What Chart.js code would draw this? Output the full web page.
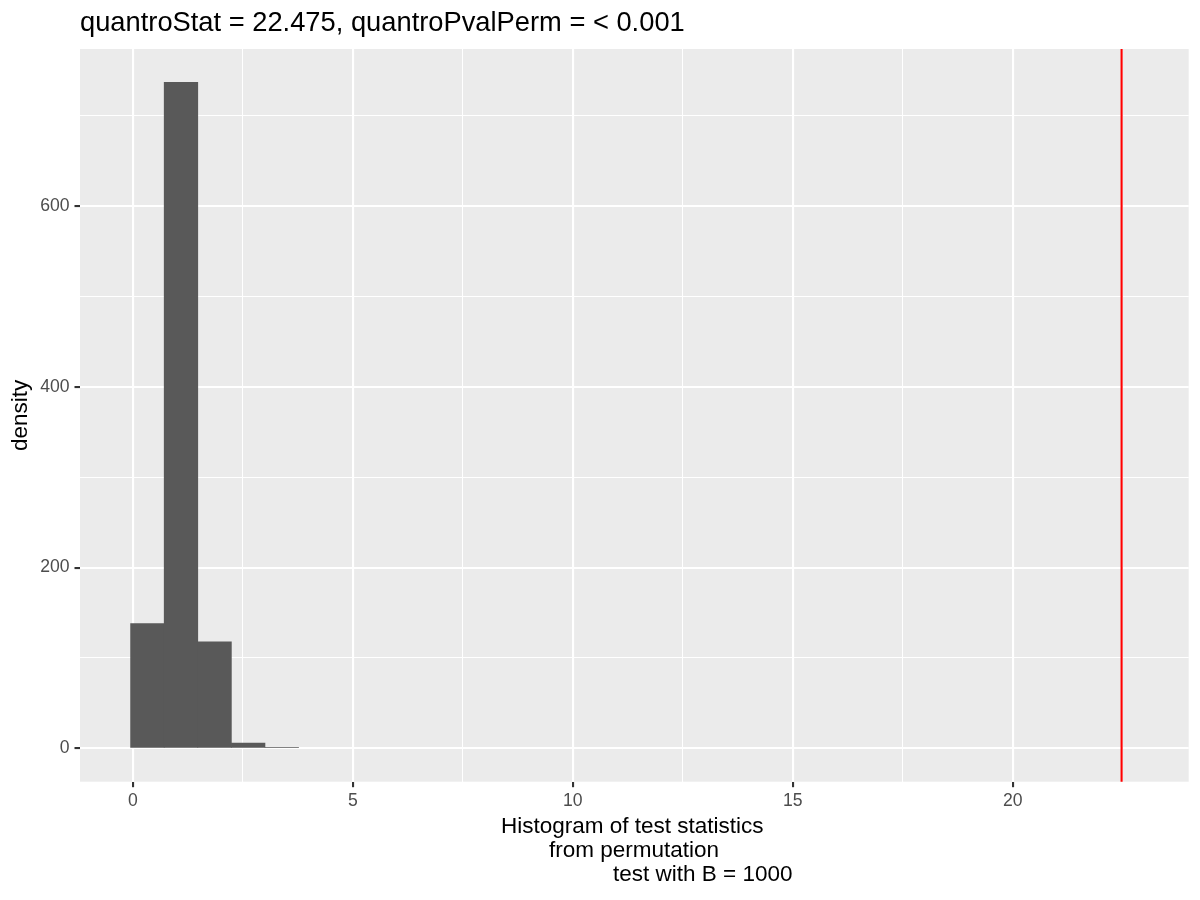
<!DOCTYPE html>
<html><head><meta charset="utf-8">
<script src="https://cdn.jsdelivr.net/npm/chart.js@4/dist/chart.umd.min.js"></script>
<style>html,body{margin:0;padding:0;background:#fff}canvas{display:block}</style>
</head><body>
<canvas id="c" width="1200" height="900"></canvas>
<script>
const binEdges = [-0.05, 0.7136, 1.4772, 2.2408, 3.0044, 3.768];
const binCounts = [138, 737, 118, 6, 1];
const observedStat = 22.475;
const xMajorTicks = [0, 5, 10, 15, 20];
const xMinorTicks = [2.5, 7.5, 12.5, 17.5, 22.5];
const yMajorTicks = [0, 200, 400, 600];
const yMinorTicks = [100, 300, 500, 700];
const titleText = 'quantroStat = 22.475, quantroPvalPerm = < 0.001';
const xTitleLines = ['Histogram of test statistics', 'from permutation', 'test with B = 1000'];
const yTitleText = 'density';

const FONT = '"Liberation Sans", Arial, Helvetica, sans-serif';
const barData = binCounts.map((c, i) => ({x: (binEdges[i] + binEdges[i+1]) / 2, y: c}));

function gridOpts(majors) {
  return {
    offset: false,
    color: '#FFFFFF',
    lineWidth: ctx => (ctx.tick && majors.includes(ctx.tick.value)) ? 2.1 : 1.05,
    tickColor: ctx => (ctx.tick && majors.includes(ctx.tick.value)) ? '#333333' : 'rgba(0,0,0,0)',
    tickWidth: 2.1,
    tickLength: 5.5,
    drawTicks: true
  };
}

const ggPlugin = {
  id: 'gg',
  beforeDraw(chart) {
    const {ctx, chartArea: a} = chart;
    ctx.save();
    ctx.fillStyle = '#EBEBEB';
    ctx.fillRect(a.left, a.top, a.right - a.left, a.bottom - a.top);
    ctx.restore();
  },
  afterDatasetsDraw(chart) {
    const {ctx, chartArea: a, scales: {x}} = chart;
    const px = x.getPixelForValue(observedStat);
    ctx.save();
    ctx.strokeStyle = '#FF0000';
    ctx.lineWidth = 2.1;
    ctx.beginPath();
    ctx.moveTo(px, a.top);
    ctx.lineTo(px, a.bottom);
    ctx.stroke();
    ctx.restore();
  },
  afterDraw(chart) {
    const {ctx, chartArea: a} = chart;
    ctx.save();
    ctx.fillStyle = '#000000';
    ctx.textBaseline = 'alphabetic';
    ctx.textAlign = 'left';
    ctx.font = '27.3px ' + FONT;
    ctx.fillText(titleText, a.left, 31);
    ctx.font = '22.5px ' + FONT;
    const offs = [421, 469, 533];
    const bases = [833, 857, 881];
    xTitleLines.forEach((t, i) => ctx.fillText(t, a.left + offs[i], bases[i]));
    ctx.translate(27, (a.top + a.bottom) / 2);
    ctx.rotate(-Math.PI / 2);
    ctx.textAlign = 'center';
    ctx.fillText(yTitleText, 0, 0);
    ctx.restore();
  }
};

new Chart(document.getElementById('c'), {
  type: 'bar',
  data: {
    datasets: [{
      data: barData,
      backgroundColor: '#595959',
      borderWidth: 0,
      barPercentage: 1,
      categoryPercentage: 1
    }]
  },
  options: {
    responsive: false,
    animation: false,
    devicePixelRatio: 1,
    layout: {padding: {top: 49, right: 11.3, left: 0, bottom: 0}},
    plugins: {legend: {display: false}, title: {display: false}, tooltip: {enabled: false}},
    scales: {
      x: {
        type: 'linear',
        min: -1.2,
        max: 24.0,
        offset: false,
        afterBuildTicks: s => { s.ticks = xMajorTicks.concat(xMinorTicks).sort((a,b)=>a-b).map(v => ({value: v})); },
        afterFit: s => { s.height = 118.3; },
        grid: gridOpts(xMajorTicks),
        border: {display: false},
        ticks: {
          autoSkip: false, maxRotation: 0, padding: 3,
          color: '#4D4D4D',
          font: {family: FONT, size: 17.6},
          callback: v => xMajorTicks.includes(v) ? String(v) : ''
        }
      },
      y: {
        type: 'linear',
        min: -36.85,
        max: 773.85,
        afterBuildTicks: s => { s.ticks = yMajorTicks.concat(yMinorTicks).sort((a,b)=>a-b).map(v => ({value: v})); },
        afterFit: s => { s.width = 80; },
        grid: gridOpts(yMajorTicks),
        border: {display: false},
        ticks: {
          autoSkip: false, padding: 5,
          color: '#4D4D4D',
          font: {family: FONT, size: 17.6},
          callback: v => yMajorTicks.includes(v) ? String(v) : ''
        }
      }
    }
  },
  plugins: [ggPlugin]
});
</script>
</body></html>
